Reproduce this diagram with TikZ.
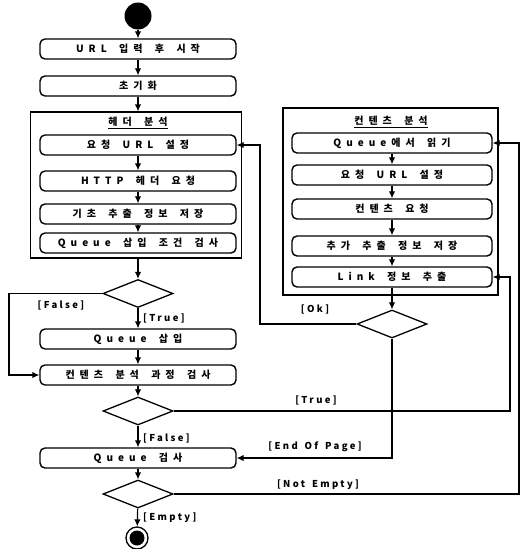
\documentclass[tikz,border=0pt]{standalone}
\usepackage{fontspec}
\setmainfont{Noto Sans CJK KR}
\newfontfamily\boxfont[LetterSpace=50, WordSpace=1.7]{Noto Sans CJK KR}
\newfontfamily\lblfont[LetterSpace=25, WordSpace=1.5]{Noto Sans CJK KR}
\usetikzlibrary{shapes.geometric, arrows.meta}

\tikzset{
  act/.style={draw, rounded corners=5pt, line width=1.4pt, minimum width=196pt,
    minimum height=20pt, inner sep=0pt, font=\boxfont\bfseries\fontsize{10}{12}\selectfont},
  ract/.style={act, minimum width=200pt},
  grp/.style={draw, line width=1.2pt, inner sep=0pt},
  gtitle/.style={inner sep=0pt, font=\boxfont\bfseries\fontsize{10}{12}\selectfont},
  dec/.style={draw, diamond, line width=1.3pt, minimum width=70pt, minimum height=28pt, inner sep=0pt},
  lbl/.style={inner sep=0pt, font=\lblfont\bfseries\fontsize{9.5}{11}\selectfont},
  arr/.style={-{Latex[length=7pt,width=6.5pt]}, line width=1.2pt}
}

\begin{document}
\begin{tikzpicture}[x=1pt,y=-1pt]
\useasboundingbox (0,0) rectangle (527,549);
% containers
\node[grp, minimum width=211pt, minimum height=146pt] (hdr) at (136,185) {};
\node[grp, minimum width=215pt, minimum height=187pt] (cnt) at (390.5,201.5) {};
\node[gtitle] (hdrtitle) at (138,123) {\underline{헤더 분석}};
\node[gtitle] (cnttitle) at (391,122) {\underline{컨텐츠 분석}};
% left column
\node[circle, fill, minimum size=27pt, inner sep=0pt] (start) at (138,16) {};
\node[act] (begin) at (138,49) {URL 입력 후 시작};
\node[act] (init) at (138,86) {초기화};
\node[act] (seturl) at (138,145) {요청 URL 설정};
\node[act] (httphdr) at (138,181) {HTTP 헤더 요청};
\node[act] (saveinfo) at (138,214) {기초 추출 정보 저장};
\node[act] (qcond) at (138,243) {Queue 삽입 조건 검사};
\node[dec] (dcond) at (138,293.5) {};
\node[act] (qinsert) at (138,339) {Queue 삽입};
\node[act] (cstate) at (138,375) {컨텐츠 분석 과정 검사};
\node[dec] (dstate) at (138,411) {};
\node[act] (qcheck) at (138,458) {Queue 검사};
\node[dec] (dqueue) at (138,494) {};
\node[circle, draw, line width=1.3pt, minimum size=22pt, inner sep=0pt] (stop) at (137,538) {};
\node[circle, fill, minimum size=15pt, inner sep=0pt] (stopdot) at (137,538) {};
% right column
\node[ract] (qread) at (392,143) {Queue에서 읽기};
\node[ract] (rseturl) at (392,175) {요청 URL 설정};
\node[ract] (creq) at (392,209) {컨텐츠 요청};
\node[ract] (saveextra) at (392,246) {추가 추출 정보 저장};
\node[ract] (link) at (392,277) {Link 정보 추출};
\node[dec] (dok) at (392,324) {};
% bends
\coordinate (falsebend) at (9,293.5);
\coordinate (okbend) at (260,324);
\coordinate (truebend) at (510,411);
\coordinate (emptybend) at (519,494);
% labels
\node[lbl] (lfalse1) at (61,305) {[False]};
\node[lbl, anchor=west] (ltrue1) at (143,318) {[True]};
\node[lbl] (lok) at (315,309) {[Ok]};
\node[lbl] (ltrue2) at (316,400) {[True]};
\node[lbl, anchor=west] (lfalse2) at (143,438) {[False]};
\node[lbl] (leop) at (315,447) {[End Of Page]};
\node[lbl] (lnotempty) at (318,485) {[Not Empty]};
\node[lbl, anchor=west] (lempty) at (143,518) {[Empty]};
% flow
\draw[arr] (start) -- (begin);
\draw[arr] (begin) -- (init);
\draw[arr] (init) -- (init |- hdr.north);
\draw[arr] (seturl) -- (httphdr);
\draw[arr] (httphdr) -- (saveinfo);
\draw[arr] (saveinfo) -- (qcond);
\draw[arr] (qcond |- hdr.south) -- (dcond);
\draw[arr] (dcond) -- (qinsert);
\draw[arr] (dcond.west) -- (falsebend) |- (cstate.west);
\draw[arr] (qinsert) -- (cstate);
\draw[arr] (cstate) -- (dstate);
\draw[arr] (dstate) -- (qcheck);
\draw[arr] (dstate.east) -- (truebend) |- (link.east);
\draw[arr] (qcheck) -- (dqueue);
\draw[arr] (dqueue) -- (stop);
\draw[arr] (dqueue.east) -- (emptybend) |- (qread.east);
\draw[arr] (qread) -- (rseturl);
\draw[arr] (rseturl) -- (creq);
\draw[arr] (creq) -- (saveextra);
\draw[arr] (saveextra) -- (link);
\draw[arr] (link) -- (dok);
\draw[arr] (dok.west) -- (okbend) |- (seturl.east);
\draw[arr] (dok.south) |- (qcheck.east);
\end{tikzpicture}
\end{document}
